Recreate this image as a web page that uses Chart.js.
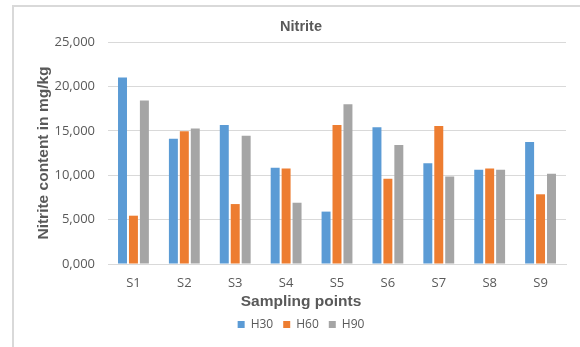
<!DOCTYPE html>
<html>
<head>
<meta charset="utf-8">
<script src="https://cdn.jsdelivr.net/npm/chart.js@4/dist/chart.umd.min.js"></script>
<style>
  html, body { margin: 0; padding: 0; background: #fff; }
  canvas { display: block; }
</style>
</head>
<body>
<canvas id="chart" width="580" height="347"></canvas>
<script>
// Sampling points and nitrite readings (mg/kg) for each holding time
const categories = ['S1', 'S2', 'S3', 'S4', 'S5', 'S6', 'S7', 'S8', 'S9'];
const seriesNames = ['H30', 'H60', 'H90'];
const h30 = [21.0, 14.1, 15.65, 10.85, 5.9, 15.4, 11.35, 10.6, 13.75];
const h60 = [5.44, 14.95, 6.75, 10.75, 15.65, 9.6, 15.55, 10.75, 7.85];
const h90 = [18.4, 15.25, 14.45, 6.9, 18.0, 13.4, 9.85, 10.6, 10.15];
const yMin = 0, yMax = 25, yStep = 5;

const seriesColors = ['#5B9BD5', '#ED7D31', '#A5A5A5'];
const textColor = '#595959';
const gridColor = '#D9D9D9';

// thin outer frame along the top and left edges
const framePlugin = {
  id: 'frame',
  beforeDraw(chart) {
    const { ctx, width, height } = chart;
    ctx.save();
    ctx.fillStyle = '#fff';
    ctx.fillRect(0, 0, width, height);
    ctx.strokeStyle = '#D9D9D9';
    ctx.lineWidth = 2;
    ctx.beginPath();
    ctx.moveTo(13, height);
    ctx.lineTo(13, 6);
    ctx.lineTo(width, 6);
    ctx.stroke();
    ctx.restore();
  }
};

new Chart(document.getElementById('chart'), {
  type: 'bar',
  data: {
    labels: categories,
    datasets: [h30, h60, h90].map((values, i) => ({
      label: seriesNames[i],
      data: values,
      backgroundColor: seriesColors[i],
      borderWidth: 0,
      categoryPercentage: 0.645,
      barPercentage: 0.82
    }))
  },
  options: {
    responsive: false,
    animation: false,
    layout: { padding: { left: 36, right: 14, top: 0, bottom: 6.6 } },
    plugins: {
      title: {
        display: true,
        text: 'Nitrite',
        color: textColor,
        font: { family: 'Liberation Sans', size: 14.5, weight: 'bold', lineHeight: 1.2 },
        padding: { top: 18.3, bottom: 6.3 }
      },
      subtitle: {
        display: true,
        position: 'bottom',
        weight: 500,
        text: 'Sampling points',
        color: textColor,
        font: { family: 'Liberation Sans', size: 15.5, weight: 'bold', lineHeight: 0.8 },
        padding: { top: 0, bottom: 0 }
      },
      legend: {
        position: 'bottom',
        labels: {
          color: textColor,
          boxWidth: 7,
          boxHeight: 7,
          padding: 10,
          font: { family: 'Open Sans', size: 12 }
        }
      },
      tooltip: { enabled: false }
    },
    scales: {
      x: {
        grid: { display: false, drawTicks: false, tickLength: 0 },
        border: { display: true, color: gridColor, width: 1 },
        ticks: {
          color: textColor,
          padding: 11,
          font: { family: 'Open Sans', size: 13 }
        },
        afterFit(scale) { scale.height = 32; }
      },
      y: {
        min: yMin,
        max: yMax,
        grid: { color: gridColor, lineWidth: 1, drawTicks: false, tickLength: 0 },
        border: { display: false },
        ticks: {
          stepSize: yStep,
          color: textColor,
          padding: 13,
          font: { family: 'Open Sans', size: 13 },
          callback: (value) => value.toFixed(3).replace('.', ',')
        },
        title: {
          display: true,
          text: 'Nitrite content in mg/kg',
          color: textColor,
          font: { family: 'Liberation Sans', size: 15.5, weight: 'bold', lineHeight: 1.0 },
          padding: { top: 0, bottom: 0 }
        },
        afterFit(scale) { scale.width = 72; }
      }
    }
  },
  plugins: [framePlugin]
});
</script>
</body>
</html>
